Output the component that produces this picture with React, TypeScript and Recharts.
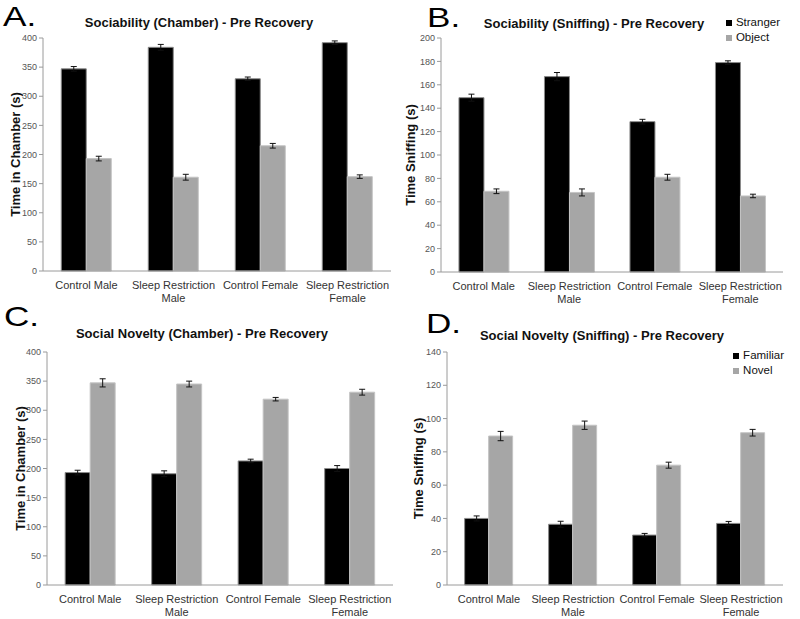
import { BarChart, Bar, XAxis, YAxis, ErrorBar, Legend } from 'recharts'

const categories = ['Control Male', 'Sleep Restriction Male', 'Control Female', 'Sleep Restriction Female']

// A. Sociability (Chamber)
const chamberStranger = [347, 384, 330, 392]
const chamberStrangerErr = [4, 5, 3, 3]
const chamberObject = [193, 161, 215, 162]
const chamberObjectErr = [4, 5, 4, 3]

// B. Sociability (Sniffing)
const sniffStranger = [149, 167, 128.5, 179]
const sniffStrangerErr = [3, 3.5, 2, 1.5]
const sniffObject = [69, 68, 81, 65]
const sniffObjectErr = [2, 3, 2.5, 1.5]

// C. Social Novelty (Chamber)
const novChamberFamiliar = [193, 191, 213, 200]
const novChamberFamiliarErr = [4, 5, 3, 5]
const novChamberNovel = [347, 345, 319, 331]
const novChamberNovelErr = [7, 5, 3, 5]

// D. Social Novelty (Sniffing)
const novSniffFamiliar = [40, 36.5, 30, 37]
const novSniffFamiliarErr = [1.5, 1.8, 1, 1.2]
const novSniffNovel = [89.5, 96, 72, 91.5]
const novSniffNovelErr = [2.8, 2.5, 1.8, 2]

const ticks400 = [0, 50, 100, 150, 200, 250, 300, 350, 400]
const ticks200 = [0, 20, 40, 60, 80, 100, 120, 140, 160, 180, 200]
const ticks140 = [0, 20, 40, 60, 80, 100, 120, 140]

const FONT = '"Liberation Sans", Arial, sans-serif'
const GRAY = '#a6a6a6'

const buildRows = (a: number[], aErr: number[], b: number[], bErr: number[]) =>
	categories.map((name, i) => ({ name, a: a[i], aErr: aErr[i], b: b[i], bErr: bErr[i] }))

const WrapTick = (props: any) => {
	const { x, y, payload } = props
	const words = String(payload.value).split(' ')
	const lines = words.length > 2 ? [words.slice(0, 2).join(' '), words.slice(2).join(' ')] : [words.join(' ')]
	return (
		<text x={x} y={y} textAnchor="middle" fontSize={11} fill="#333" fontFamily={FONT}>
			{lines.map((l, i) => (
				<tspan key={i} x={x} dy={i === 0 ? 10 : 13}>
					{l}
				</tspan>
			))}
		</text>
	)
}

type PanelProps = {
	left: number
	top: number
	height: number
	margin: { top: number; right: number; left: number; bottom: number }
	yWidth: number
	xHeight: number
	ticks: number[]
	yLabel: string
	labelOffset: number
	rows: any[]
	names: [string, string]
	legend?: { top: number; right: number }
}

function Panel(p: PanelProps) {
	return (
		<div style={{ position: 'absolute', left: p.left, top: p.top }}>
			<BarChart
				width={400}
				height={p.height}
				data={p.rows}
				margin={p.margin}
				barCategoryGap="21%"
				barGap={0}
				style={{ fontFamily: FONT }}>
				<XAxis
					dataKey="name"
					interval={0}
					tickLine={false}
					height={p.xHeight}
					stroke="#9a9a9a"
					tick={<WrapTick />}
				/>
				<YAxis
					width={p.yWidth}
					domain={[0, p.ticks[p.ticks.length - 1]]}
					ticks={p.ticks}
					tickSize={4}
					stroke="#9a9a9a"
					tick={{ fontSize: 9, fill: '#555' }}
					label={{
						value: p.yLabel,
						angle: -90,
						position: 'insideLeft',
						offset: p.labelOffset,
						style: { textAnchor: 'middle', fontSize: 13, fontWeight: 'bold', fill: '#111' },
					}}
				/>
				{p.legend && (
					<Legend
						layout="vertical"
						align="center"
						verticalAlign="middle"
						iconType="square"
						iconSize={6}
						itemSorter="dataKey"
						formatter={(v: string) => <span style={{ color: '#111' }}>{v}</span>}
						wrapperStyle={{
							top: p.legend.top,
							right: p.legend.right,
							left: 'auto',
							width: 'auto',
							fontSize: 11.5,
							lineHeight: '15px',
						}}
					/>
				)}
				<Bar dataKey="a" name={p.names[0]} fill="#000" stroke="#8a8a8a" strokeWidth={1} isAnimationActive={false}>
					<ErrorBar dataKey="aErr" width={3} stroke="#111" strokeWidth={1} />
				</Bar>
				<Bar dataKey="b" name={p.names[1]} fill={GRAY} stroke="#c4c4c4" strokeWidth={1} isAnimationActive={false}>
					<ErrorBar dataKey="bErr" width={3} stroke="#111" strokeWidth={1} />
				</Bar>
			</BarChart>
		</div>
	)
}

const Letter = ({ x, y, text }: { x: number; y: number; text: string }) => (
	<text transform={`translate(${x},${y}) scale(1.3,1)`} fontSize={27} fill="#000" fontFamily={FONT}>
		{text}
	</text>
)

const Title = ({ x, y, text }: { x: number; y: number; text: string }) => (
	<text x={x} y={y} textAnchor="middle" fontSize={13} fontWeight="bold" fill="#111" fontFamily={FONT}>
		{text}
	</text>
)

export default function App() {
	return (
		<div style={{ position: 'absolute', left: 0, top: 0, width: 800, height: 619, background: '#fff', fontFamily: FONT }}>
			<Panel
				left={0}
				top={0}
				height={305}
				margin={{ top: 38, right: 9, left: 0, bottom: 0 }}
				yWidth={43}
				xHeight={34}
				ticks={ticks400}
				yLabel="Time in Chamber (s)"
				labelOffset={15}
				rows={buildRows(chamberStranger, chamberStrangerErr, chamberObject, chamberObjectErr)}
				names={['Stranger', 'Object']}
			/>
			<Panel
				left={400}
				top={0}
				height={305}
				margin={{ top: 38, right: 17, left: 0, bottom: 0 }}
				yWidth={41}
				xHeight={33}
				ticks={ticks200}
				yLabel="Time Sniffing (s)"
				labelOffset={10}
				rows={buildRows(sniffStranger, sniffStrangerErr, sniffObject, sniffObjectErr)}
				names={['Stranger', 'Object']}
				legend={{ top: 15, right: 10 }}
			/>
			<Panel
				left={0}
				top={300}
				height={319}
				margin={{ top: 52, right: 7, left: 0, bottom: 0 }}
				yWidth={47}
				xHeight={34}
				ticks={ticks400}
				yLabel="Time in Chamber (s)"
				labelOffset={20}
				rows={buildRows(novChamberFamiliar, novChamberFamiliarErr, novChamberNovel, novChamberNovelErr)}
				names={['Familiar', 'Novel']}
			/>
			<Panel
				left={400}
				top={300}
				height={319}
				margin={{ top: 52, right: 17, left: 0, bottom: 0 }}
				yWidth={47}
				xHeight={34}
				ticks={ticks140}
				yLabel="Time Sniffing (s)"
				labelOffset={18}
				rows={buildRows(novSniffFamiliar, novSniffFamiliarErr, novSniffNovel, novSniffNovelErr)}
				names={['Familiar', 'Novel']}
				legend={{ top: 48, right: 6 }}
			/>
			<svg width={800} height={619} style={{ position: 'absolute', left: 0, top: 0, pointerEvents: 'none' }}>
				<Letter x={3} y={26} text="A." />
				<Letter x={427} y={27} text="B." />
				<Letter x={4} y={326} text="C." />
				<Letter x={426} y={333} text="D." />
				<Title x={199} y={27} text="Sociability (Chamber) - Pre Recovery" />
				<Title x={594} y={28} text="Sociability (Sniffing) - Pre Recovery" />
				<Title x={202} y={338} text="Social Novelty (Chamber) - Pre Recovery" />
				<Title x={602} y={340} text="Social Novelty (Sniffing) - Pre Recovery" />
			</svg>
		</div>
	)
}
